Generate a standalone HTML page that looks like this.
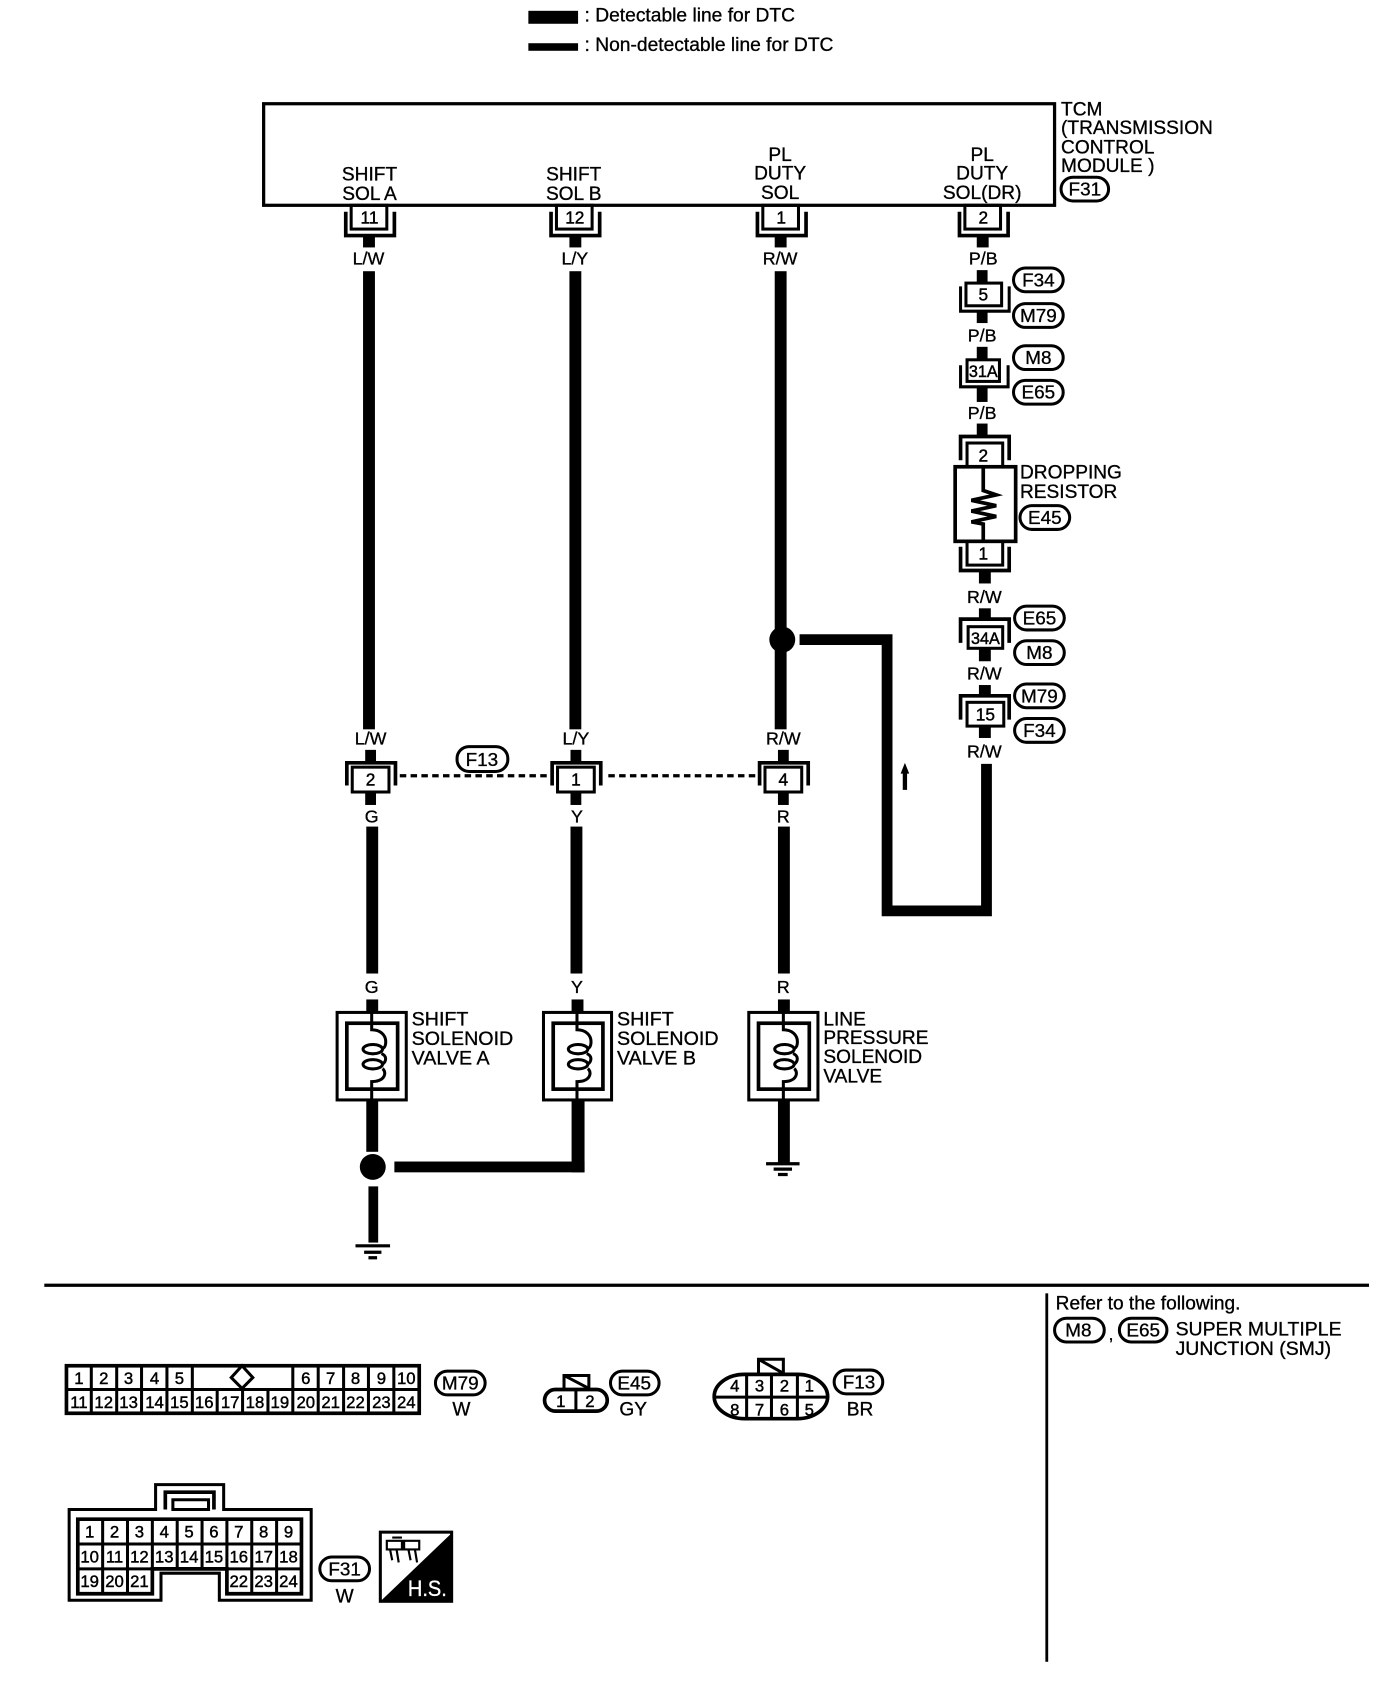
<!DOCTYPE html>
<html><head><meta charset="utf-8"><title>Wiring diagram</title>
<style>
html,body{margin:0;padding:0;background:#fff}
svg{display:block}
text{font-family:"Liberation Sans",sans-serif;font-size:17.7px;fill:#000;stroke:#000;stroke-width:.3}
.c{text-anchor:middle}
.w{font-size:16.5px}
.n{font-size:16px;text-anchor:middle;stroke-width:.4}
.g{font-size:15.5px;text-anchor:middle;stroke-width:.4}
.o{font-size:17.5px;text-anchor:middle}
.f{fill:none;stroke:#000;stroke-width:2.8}
.u{fill:none;stroke:#000;stroke-width:3.4}
.b{fill:#000;stroke:none}
</style></head><body>
<svg xmlns="http://www.w3.org/2000/svg" width="1392" height="1694" viewBox="0 0 1288.3 1567.8">
<rect x="0" y="0" width="1289" height="1568" fill="#fff"/>

<!-- legend -->
<rect class="b" x="489" y="10" width="46" height="12"/>
<rect class="b" x="489" y="40" width="46" height="7"/>
<text x="541" y="20" style="font-size:17.8px">: Detectable line for DTC</text>
<text x="541" y="47" style="font-size:17.8px">: Non-detectable line for DTC</text>

<!-- TCM -->
<rect x="244" y="96" width="732" height="94" fill="none" stroke="#000" stroke-width="3"/>
<text class="c" x="342" y="167">SHIFT</text><text class="c" x="342" y="185">SOL A</text>
<text class="c" x="531" y="167">SHIFT</text><text class="c" x="531" y="185">SOL B</text>
<text class="c" x="722" y="149">PL</text><text class="c" x="722" y="166">DUTY</text><text class="c" x="722" y="184">SOL</text>
<text class="c" x="909" y="149">PL</text><text class="c" x="909" y="166">DUTY</text><text class="c" x="909" y="184">SOL(DR)</text>
<text x="982" y="107">TCM</text><text x="982" y="124">(TRANSMISSION</text><text x="982" y="142">CONTROL</text><text x="982" y="159">MODULE )</text>
<rect class="f" x="982" y="164" width="44" height="22" rx="11"/><text class="o" x="1004" y="181">F31</text>

<!-- top connectors -->
<rect class="f" x="325" y="190" width="33" height="22"/><path class="u" d="M320 196V218H365V196"/>
<rect class="b" x="336" y="218" width="11" height="11"/><text class="n" x="342" y="207">11</text>
<rect class="f" x="515" y="190" width="33" height="22"/><path class="u" d="M510 196V218H555V196"/>
<rect class="b" x="527" y="218" width="11" height="11"/><text class="n" x="532" y="207">12</text>
<rect class="f" x="706" y="190" width="33" height="22"/><path class="u" d="M701 196V218H746V196"/>
<rect class="b" x="717" y="218" width="11" height="11"/><text class="n" x="723" y="207">1</text>
<rect class="f" x="893" y="190" width="33" height="22"/><path class="u" d="M888 196V218H933V196"/>
<rect class="b" x="904" y="218" width="11" height="11"/><text class="n" x="910" y="207">2</text>

<!-- wire labels and wires column 1-3 -->
<text class="c w" x="341" y="245">L/W</text><text class="c w" x="532" y="245">L/Y</text><text class="c w" x="722" y="245">R/W</text>
<rect class="b" x="336" y="251" width="11" height="424"/>
<rect class="b" x="527" y="251" width="11" height="424"/>
<rect class="b" x="717" y="251" width="11" height="424"/>
<text class="c w" x="343" y="689">L/W</text><text class="c w" x="533" y="689">L/Y</text><text class="c w" x="725" y="689">R/W</text>
<circle class="b" cx="724" cy="592" r="12"/>

<!-- mid connectors -->
<rect class="b" x="338" y="694" width="10" height="12"/><rect class="b" x="528" y="694" width="10" height="12"/><rect class="b" x="720" y="694" width="10" height="12"/>
<path class="u" d="M321 727V706H366V727"/><rect class="f" x="326" y="710" width="34" height="23"/><text class="n" x="343" y="727">2</text>
<path class="u" d="M511 727V706H556V727"/><rect class="f" x="516" y="710" width="34" height="23"/><text class="n" x="533" y="727">1</text>
<path class="u" d="M703 727V706H748V727"/><rect class="f" x="708" y="710" width="34" height="23"/><text class="n" x="725" y="727">4</text>
<rect class="b" x="338" y="733" width="10" height="12"/><rect class="b" x="528" y="733" width="10" height="12"/><rect class="b" x="720" y="733" width="10" height="12"/>
<path d="M370 718H508M563 718H702" stroke="#000" stroke-width="3" stroke-dasharray="6 4" fill="none"/>
<rect class="f" x="423" y="691" width="47" height="23" rx="11"/><text class="o" x="446" y="709">F13</text>
<text class="c w" x="344" y="761">G</text><text class="c w" x="534" y="761">Y</text><text class="c w" x="725" y="761">R</text>
<rect class="b" x="339" y="765" width="11" height="136"/><rect class="b" x="528" y="765" width="11" height="136"/><rect class="b" x="720" y="765" width="11" height="136"/>
<text class="c w" x="344" y="919">G</text><text class="c w" x="534" y="919">Y</text><text class="c w" x="725" y="919">R</text>
<rect class="b" x="339" y="925" width="11" height="12"/><rect class="b" x="529" y="925" width="11" height="12"/><rect class="b" x="720" y="925" width="11" height="12"/>

<!-- solenoids -->
<rect class="f" x="312" y="937" width="64" height="81"/><rect class="u" x="321" y="947" width="47" height="61"/>
<path class="f" d="M344 937V953C352 953 357 958 357 964C357 968 356 970 353 971M353 975C358 977 358 982 354 985M354 989C358 992 357 1001 344 1001V1018"/>
<ellipse class="f" cx="345" cy="971" rx="9" ry="4.3"/><ellipse class="f" cx="345" cy="985" rx="9" ry="4.3"/>
<rect class="f" x="503" y="937" width="63" height="81"/><rect class="u" x="512" y="947" width="46" height="61"/>
<path class="f" d="M534 937V953C542 953 547 958 547 964C547 968 546 970 543 971M543 975C548 977 548 982 544 985M544 989C548 992 547 1001 534 1001V1018"/>
<ellipse class="f" cx="535" cy="971" rx="9" ry="4.3"/><ellipse class="f" cx="535" cy="985" rx="9" ry="4.3"/>
<rect class="f" x="693" y="937" width="64" height="81"/><rect class="u" x="702" y="947" width="47" height="61"/>
<path class="f" d="M725 937V953C733 953 738 958 738 964C738 968 737 970 734 971M734 975C739 977 739 982 735 985M735 989C739 992 738 1001 725 1001V1018"/>
<ellipse class="f" cx="726" cy="971" rx="9" ry="4.3"/><ellipse class="f" cx="726" cy="985" rx="9" ry="4.3"/>
<text x="381" y="949" style="font-size:18.2px">SHIFT</text><text x="381" y="967" style="font-size:18.2px">SOLENOID</text><text x="381" y="985" style="font-size:18.2px">VALVE A</text>
<text x="571" y="949" style="font-size:18.2px">SHIFT</text><text x="571" y="967" style="font-size:18.2px">SOLENOID</text><text x="571" y="985" style="font-size:18.2px">VALVE B</text>
<text x="762" y="949">LINE</text><text x="762" y="966">PRESSURE</text><text x="762" y="984">SOLENOID</text><text x="762" y="1002">VALVE</text>

<!-- lower wires -->
<rect class="b" x="339" y="1018" width="11" height="48"/>
<circle class="b" cx="345" cy="1080" r="12"/>
<rect class="b" x="365" y="1075" width="176" height="10"/><rect class="b" x="529" y="1018" width="12" height="67"/>
<rect class="b" x="341" y="1098" width="9" height="52"/>
<path d="M329 1153H361M337 1159H353M341 1164H349" stroke="#000" stroke-width="3" fill="none"/>
<rect class="b" x="720" y="1018" width="11" height="58"/>
<path d="M709 1077H740M716 1082H733M720 1087H729" stroke="#000" stroke-width="3" fill="none"/>

<!-- branch -->
<path d="M740 592H821V843H913V707" fill="none" stroke="#000" stroke-width="10"/>
<path class="b" d="M837.5 706L841.5 716H839.5V731H835.5V716H833.5Z"/>

<!-- right column -->
<text class="c w" x="910" y="245">P/B</text>
<rect class="b" x="904" y="250" width="10" height="13"/>
<rect class="f" x="894" y="262" width="33" height="21"/><path class="f" d="M889 265V288H934V265"/><text class="n" x="910" y="278">5</text>
<rect class="b" x="904" y="288" width="10" height="11"/>
<text class="c w" x="909" y="316">P/B</text>
<rect class="b" x="904" y="321" width="10" height="12"/>
<rect class="f" x="895" y="333" width="30" height="20"/><path class="f" d="M889 338V358H933V338"/><text class="n" x="910" y="349" style="font-size:15px">31A</text>
<rect class="b" x="904" y="358" width="10" height="14"/>
<text class="c w" x="909" y="388">P/B</text>
<rect class="b" x="904" y="392" width="10" height="12"/>
<path class="u" d="M889 426V404H934V426"/><rect class="f" x="895" y="410" width="33" height="22"/><text class="n" x="910" y="427">2</text>
<rect class="u" x="884" y="432" width="56" height="69" fill="#fff"/>
<path class="u" d="M910 432V454L922 458L899 463L922 468L899 473L922 478L899 483L910 485V501"/>
<rect class="f" x="895" y="501" width="33" height="22"/><path class="u" d="M889 506V528H934V506"/><text class="n" x="910" y="518">1</text>
<rect class="b" x="906" y="529" width="11" height="11"/>
<text class="c w" x="911" y="558">R/W</text>
<rect class="b" x="906" y="563" width="11" height="10"/>
<path class="u" d="M889 595V573H934V595"/><rect class="f" x="896" y="580" width="32" height="20"/><text class="n" x="912" y="596" style="font-size:15px">34A</text>
<rect class="b" x="906" y="601" width="11" height="11"/>
<text class="c w" x="911" y="629">R/W</text>
<rect class="b" x="906" y="634" width="11" height="10"/>
<path class="u" d="M889 666V644H934V666"/><rect class="f" x="895" y="650" width="34" height="22"/><text class="n" x="912" y="667">15</text>
<rect class="b" x="906" y="673" width="11" height="10"/>
<text class="c w" x="911" y="701">R/W</text>

<text x="944" y="443">DROPPING</text><text x="944" y="461">RESISTOR</text>

<!-- ovals -->
<rect class="f" x="938" y="248" width="46" height="22" rx="11"/><text class="o" x="961" y="265">F34</text>
<rect class="f" x="938" y="281" width="46" height="22" rx="11"/><text class="o" x="961" y="298">M79</text>
<rect class="f" x="938" y="320" width="46" height="22" rx="11"/><text class="o" x="961" y="337">M8</text>
<rect class="f" x="938" y="352" width="46" height="22" rx="11"/><text class="o" x="961" y="369">E65</text>
<rect class="f" x="944" y="468" width="46" height="22" rx="11"/><text class="o" x="967" y="485">E45</text>
<rect class="f" x="939" y="561" width="46" height="22" rx="11"/><text class="o" x="962" y="578">E65</text>
<rect class="f" x="939" y="593" width="46" height="22" rx="11"/><text class="o" x="962" y="610">M8</text>
<rect class="f" x="939" y="633" width="46" height="22" rx="11"/><text class="o" x="962" y="650">M79</text>
<rect class="f" x="939" y="665" width="46" height="22" rx="11"/><text class="o" x="962" y="682">F34</text>

<!-- divider -->
<rect class="b" x="41" y="1188" width="1226" height="3"/>
<rect class="b" x="967.5" y="1197" width="2.6" height="341"/>
<text x="977" y="1212">Refer to the following.</text>
<rect class="f" x="976" y="1220" width="46" height="22" rx="11"/><text class="o" x="998" y="1237">M8</text>
<text x="1026" y="1240" style="font-size:16px">,</text>
<rect class="f" x="1036" y="1220" width="44" height="22" rx="11"/><text class="o" x="1058" y="1237">E65</text>
<text x="1088" y="1236" style="font-size:18px">SUPER MULTIPLE</text><text x="1088" y="1254" style="font-size:18px">JUNCTION (SMJ)</text>

<!-- M79 connector -->
<rect class="u" x="61.5" y="1264" width="326.5" height="44"/>
<path class="f" d="M61 1286H388M84.5 1264V1308M108 1264V1308M131 1264V1308M154.5 1264V1308M178 1264V1308M201 1286V1308M224.5 1286V1308M248 1286V1308M271 1264V1308M294.5 1264V1308M318 1264V1308M341 1264V1308M364.5 1264V1308"/>
<path d="M224 1264L234 1275L224 1285L214 1275Z" fill="#fff" stroke="#000" stroke-width="2.8"/>
<text class="g" x="73" y="1281">1</text><text class="g" x="96" y="1281">2</text><text class="g" x="119" y="1281">3</text><text class="g" x="143" y="1281">4</text><text class="g" x="166" y="1281">5</text>
<text class="g" x="283" y="1281">6</text><text class="g" x="306" y="1281">7</text><text class="g" x="329" y="1281">8</text><text class="g" x="353" y="1281">9</text><text class="g" x="376" y="1281">10</text>
<text class="g" x="73" y="1303">11</text><text class="g" x="96" y="1303">12</text><text class="g" x="119" y="1303">13</text><text class="g" x="143" y="1303">14</text><text class="g" x="166" y="1303">15</text><text class="g" x="189" y="1303">16</text><text class="g" x="213" y="1303">17</text><text class="g" x="236" y="1303">18</text><text class="g" x="259" y="1303">19</text><text class="g" x="283" y="1303">20</text><text class="g" x="306" y="1303">21</text><text class="g" x="329" y="1303">22</text><text class="g" x="353" y="1303">23</text><text class="g" x="376" y="1303">24</text>
<rect class="f" x="403" y="1269" width="46" height="22" rx="11"/><text class="o" x="426" y="1286">M79</text>
<text class="c" x="427" y="1310">W</text>

<!-- E45 connector -->
<path class="f" d="M522 1286V1273H545V1286M522 1273L545 1285"/>
<rect class="u" x="504" y="1286" width="58" height="20" rx="10"/><path class="f" d="M533 1286V1306"/>
<text class="g" x="519" y="1302">1</text><text class="g" x="546" y="1302">2</text>
<rect class="f" x="565" y="1269" width="45" height="22" rx="11"/><text class="o" x="587" y="1286">E45</text>
<text class="c" x="586" y="1310">GY</text>

<!-- F13 connector -->
<path class="f" d="M702 1272V1258H725V1272M702 1258L725 1271"/>
<rect class="u" x="661" y="1272" width="105" height="41" rx="28" ry="20.5"/>
<path class="f" d="M661 1293H766M691 1272V1313M714 1272V1313M738 1272V1313"/>
<text class="g" x="680" y="1288">4</text><text class="g" x="703" y="1288">3</text><text class="g" x="726" y="1288">2</text><text class="g" x="749" y="1288">1</text>
<text class="g" x="680" y="1310">8</text><text class="g" x="703" y="1310">7</text><text class="g" x="726" y="1310">6</text><text class="g" x="749" y="1310">5</text>
<rect class="f" x="772" y="1268" width="45" height="22" rx="11"/><text class="o" x="795" y="1285">F13</text>
<text class="c" x="796" y="1310">BR</text>

<!-- F31 connector -->
<path class="f" d="M64 1397H144V1374H207V1397H288V1481H203V1456H149V1481H64Z"/>
<path class="u" d="M153 1397V1381H198V1397"/><path class="f" d="M160 1388H193V1397H160Z"/>
<path class="u" d="M72 1406H279V1475H210V1452H141V1475H72Z"/>
<path class="f" d="M72 1429H279M72 1452H141M210 1452H279M95 1406V1475M118 1406V1475M141 1406V1452M164 1406V1452M187 1406V1452M210 1406V1475M233 1406V1475M256 1406V1475"/>
<text class="g" x="83" y="1423">1</text><text class="g" x="106" y="1423">2</text><text class="g" x="129" y="1423">3</text><text class="g" x="152" y="1423">4</text><text class="g" x="175" y="1423">5</text><text class="g" x="198" y="1423">6</text><text class="g" x="221" y="1423">7</text><text class="g" x="244" y="1423">8</text><text class="g" x="267" y="1423">9</text>
<text class="g" x="83" y="1446">10</text><text class="g" x="106" y="1446">11</text><text class="g" x="129" y="1446">12</text><text class="g" x="152" y="1446">13</text><text class="g" x="175" y="1446">14</text><text class="g" x="198" y="1446">15</text><text class="g" x="221" y="1446">16</text><text class="g" x="244" y="1446">17</text><text class="g" x="267" y="1446">18</text>
<text class="g" x="83" y="1469">19</text><text class="g" x="106" y="1469">20</text><text class="g" x="129" y="1469">21</text><text class="g" x="221" y="1469">22</text><text class="g" x="244" y="1469">23</text><text class="g" x="267" y="1469">24</text>
<rect class="f" x="296" y="1441" width="46" height="22" rx="11"/><text class="o" x="319" y="1458">F31</text>
<text class="c" x="319" y="1483">W</text>

<!-- H.S. -->
<rect class="f" x="352" y="1418" width="66" height="64"/>
<path class="b" d="M419 1418V1483H351Z"/>
<path d="M358 1426H372V1434H358ZM374 1426H388V1434H374ZM361 1434L363 1444M367 1434L369 1446M378 1434L380 1444M384 1434L386 1446M363 1423H372" fill="none" stroke="#000" stroke-width="2"/>
<text x="377.5" y="1477" textLength="36" lengthAdjust="spacingAndGlyphs" style="fill:#fff;stroke:#fff;font-size:20.5px">H.S.</text>
</svg>
</body></html>
